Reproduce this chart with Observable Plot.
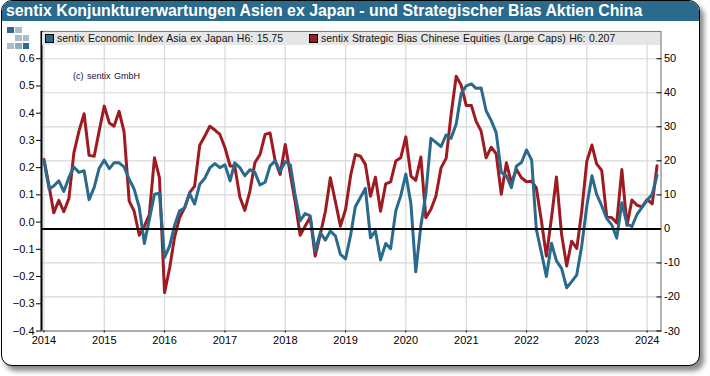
<!DOCTYPE html>
<html><head><meta charset="utf-8">
<script src="https://cdn.jsdelivr.net/npm/d3@7"></script>
<script src="https://cdn.jsdelivr.net/npm/@observablehq/plot@0.6"></script>
<style>
html,body{margin:0;padding:0;background:#fff;font-family:"Liberation Sans",Arial,sans-serif}
#wrap{position:relative;width:710px;height:376px;overflow:hidden}
#card{position:absolute;left:1px;top:0;width:696.5px;height:364px;border:1.5px solid #000;border-radius:11px;background:#fff;box-shadow:4px 5px 5px #8a8a8a;overflow:hidden}
#head{position:absolute;left:0;top:0;right:0;height:19.5px;background:#296a8d;color:#fff;font-weight:bold;font-size:15.85px;line-height:20px;padding-left:4px;white-space:nowrap}
#plot{position:absolute;left:0;top:0}
#plot svg{display:block}
.band{position:absolute;left:42px;top:32px;width:618px;height:13px;background:rgba(228,228,228,.93)}
.leg{position:absolute;top:31px;font-size:10.5px;line-height:15px;color:#111;white-space:pre}
.sw{position:absolute;top:34px;width:7px;height:7px;border:1px solid #000}
.cr{position:absolute;left:73px;top:70px;font-size:9px;line-height:12px;color:#1a0a40;white-space:pre;word-spacing:1px}
.sq{position:absolute;width:6.5px;height:6.5px}
</style></head><body>
<div id="wrap">
<div id="card"><div id="head">sentix Konjunkturerwartungen Asien ex Japan - und Strategischer Bias Aktien China</div></div>
<div id="plot"></div>
<div class="band"></div>
<div class="sw" style="left:45px;background:#296a8d"></div>
<div class="leg" style="left:57px;word-spacing:.6px">sentix Economic Index Asia ex Japan H6: 15.75</div>
<div class="sw" style="left:309px;background:#9e1b22"></div>
<div class="leg" style="left:321px;word-spacing:.6px">sentix Strategic Bias Chinese Equities (Large Caps) H6: 0.207</div>
<div class="cr">(c) sentix GmbH</div>
<div id="logo"></div>
</div>
<script>
const economicIndex = [
20.2,11.7,12.6,14.1,11.0,15.1,18.2,16.6,17.1,8.6,12.2,17.8,
20.2,17.7,19.4,19.4,18.2,14.6,11.7,6.3,-4.3,2.8,10.2,10.5,
-8.4,-5,0.9,5.3,6.1,10.4,7.3,13.1,14.9,17.9,19.2,18.0,
18.8,14.1,19.4,18.0,15.6,17.4,16.6,12.9,13.7,18.5,20,16.9,
19.8,18.8,10.2,2.4,4.5,3.8,-6.5,-1.1,-3.3,-0.6,-2.1,-7.5,
-8.8,-1.8,6.5,9.2,11.9,-2.6,-0.6,-9.1,-4.3,-5.8,5.3,9.7,
16.1,7.3,-12.6,0.9,10.2,26.6,25.4,24.2,27.6,26.6,30.8,39.8,
42,42.6,41.3,41.4,34.7,31.8,28.3,16.6,15.6,12.1,18.5,19.5,
23.2,20.2,-0.1,-7,-14,-4.2,-9.4,-11.6,-17.3,-15.5,-13.5,-5,
6.8,15.6,10.2,6.8,3.1,1.2,-2.7,7.7,1.4,0.7,4.3,6.3,
8.4,10.2,15.75];
const strategicBias = [
0.23,0.132,0.034,0.08,0.038,0.087,0.254,0.334,0.398,0.245,0.242,0.334,
0.426,0.364,0.352,0.407,0.331,0.077,0.04,-0.048,-0.015,0.028,0.236,0.163,
-0.259,-0.168,-0.058,0.016,0.052,0.108,0.132,0.282,0.316,0.352,0.338,0.322,
0.273,0.206,0.206,0.092,0.043,0.114,0.218,0.248,0.322,0.327,0.224,0.175,
0.285,0.175,0.077,-0.048,-0.015,0.018,-0.125,-0.045,0.04,0.163,0.074,-0.015,
0.046,0.172,0.248,0.242,0.212,0.095,0.165,0.04,0.14,0.148,0.224,0.236,
0.313,0.169,0.153,0.239,0.016,0.047,0.095,0.199,0.234,0.395,0.536,0.503,
0.428,0.428,0.371,0.334,0.236,0.275,0.251,0.102,0.218,0.144,0.193,0.163,
0.148,0.15,0.126,0.004,-0.125,0.016,0.166,-0.045,-0.161,-0.07,-0.097,0.04,
0.224,0.283,0.214,0.19,0.022,0.016,-0.003,0.193,-0.012,0.081,0.062,0.056,
0.083,0.067,0.207];
const leftTicks = [-0.4,-0.3,-0.2,-0.1,0,0.1,0.2,0.3,0.4,0.5,0.6];
const rightTicks = [-30,-20,-10,0,10,20,30,40,50];
const yearTicks = [2014,2015,2016,2017,2018,2019,2020,2021,2022,2023,2024];
const months = d3.utcMonth.range(new Date(Date.UTC(2014,0,1)), new Date(Date.UTC(2024,3,1)));
const toLeft = b => b/80 - 0.025;
const fromLeft = v => Math.round((v+0.025)*80);
const yearDates = yearTicks.map(y => new Date(Date.UTC(y,0,1)));
const xDomain = [new Date(Date.UTC(2013,11,17)), new Date(Date.UTC(2024,2,25))];
const chart = Plot.plot({
  width:710, height:376,
  marginLeft:41, marginRight:49.5, marginTop:31, marginBottom:45.5,
  style:{background:"transparent",fontFamily:"'Liberation Sans',Arial,sans-serif",fontSize:"11px",color:"#000"},
  x:{type:"utc",domain:xDomain,axis:null},
  y:{domain:[-0.4,0.7],axis:null},
  marks:[
    Plot.ruleY(rightTicks.map(toLeft),{stroke:"#d8d8d8",strokeWidth:1.2,strokeOpacity:1}),
    Plot.ruleX(yearDates,{stroke:"#d8d8d8",strokeWidth:1.2,strokeOpacity:1}),
    Plot.frame({stroke:"#808080",strokeWidth:1.2}),
    Plot.ruleX([xDomain[0]],{stroke:"#000",strokeWidth:2}),
    Plot.line(strategicBias,{x:(d,i)=>months[i],y:d=>d,stroke:"#9e1b22",strokeWidth:3,curve:"linear"}),
    Plot.line(economicIndex,{x:(d,i)=>months[i],y:d=>toLeft(d),stroke:"#296a8d",strokeWidth:3,curve:"linear"}),
    Plot.ruleY([toLeft(0)],{stroke:"#000",strokeWidth:2}),
    Plot.axisY({anchor:"left",ticks:leftTicks,tickFormat:d3.format(".1f"),tickSize:5,tickPadding:2,label:null,stroke:"#000",color:"#000",fontSize:11}),
    Plot.axisY({anchor:"right",ticks:rightTicks.map(toLeft),tickFormat:fromLeft,tickSize:-5,tickPadding:8,label:null,color:"#000",fontSize:11}),
    Plot.axisX({ticks:yearDates,tickFormat:d=>String(d.getUTCFullYear()),tickSize:2,tickPadding:3,label:null,color:"#000",fontSize:11})
  ]
});
document.getElementById("plot").append(chart);
// corporate logo: a small grid of squares
const logoCells = [[0,0,"#2a6b8f"],[1,0,"#a9bdca"],[1,1,"#a9bdca"],[2,1,"#a9bdca"],[0,2,"#a9bdca"],[1,2,"#8fabbd"],[2,2,"#2a6b8f"]];
const logo = document.getElementById("logo");
for (const [c,r,col] of logoCells){
  const s=document.createElement("div");
  s.className="sq"; s.style.left=(7.3+c*7.7)+"px"; s.style.top=(26.7+r*7.9)+"px"; s.style.background=col;
  logo.append(s);
}
</script>
</body></html>
